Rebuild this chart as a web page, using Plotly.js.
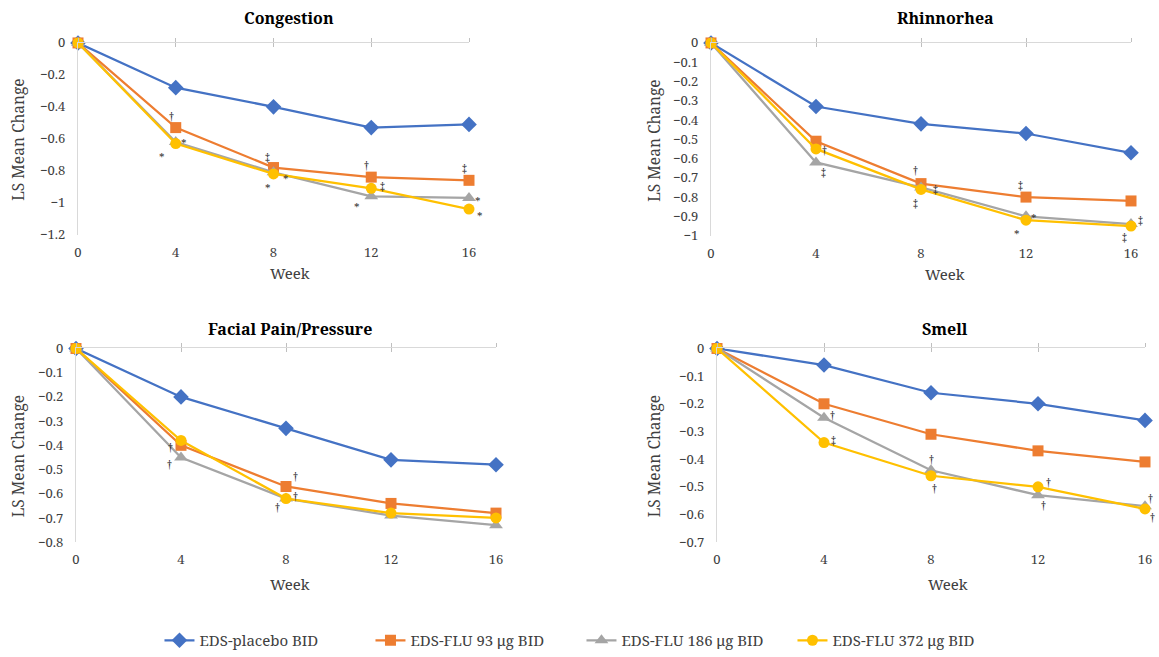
<!DOCTYPE html>
<html>
<head>
<meta charset="utf-8">
<script src="https://cdn.plot.ly/plotly-3.0.1.min.js"></script>
<style>html,body{margin:0;padding:0;background:#fff;}#chart{width:1159px;height:657px;}</style>
</head>
<body>
<div id="chart"></div>
<script>
// ---------- DATA ----------
const weeks = [0, 4, 8, 12, 16];
const seriesNames = ['EDS-placebo BID', 'EDS-FLU 93 μg BID', 'EDS-FLU 186 μg BID', 'EDS-FLU 372 μg BID'];
const panelTitles = ['Congestion', 'Rhinnorhea', 'Facial Pain/Pressure', 'Smell'];

const congestionPlacebo = [0, -0.28, -0.40, -0.53, -0.51];
const congestion93      = [0, -0.53, -0.78, -0.84, -0.86];
const congestion186     = [0, -0.62, -0.81, -0.96, -0.97];
const congestion372     = [0, -0.63, -0.82, -0.91, -1.04];

const rhinorrheaPlacebo = [0, -0.33, -0.42, -0.47, -0.57];
const rhinorrhea93      = [0, -0.51, -0.73, -0.80, -0.82];
const rhinorrhea186     = [0, -0.62, -0.75, -0.90, -0.94];
const rhinorrhea372     = [0, -0.55, -0.76, -0.92, -0.95];

const facialPlacebo = [0, -0.20, -0.33, -0.46, -0.48];
const facial93      = [0, -0.40, -0.57, -0.64, -0.68];
const facial186     = [0, -0.45, -0.62, -0.69, -0.73];
const facial372     = [0, -0.38, -0.62, -0.68, -0.70];

const smellPlacebo = [0, -0.06, -0.16, -0.20, -0.26];
const smell93      = [0, -0.20, -0.31, -0.37, -0.41];
const smell186     = [0, -0.25, -0.44, -0.53, -0.57];
const smell372     = [0, -0.34, -0.46, -0.50, -0.58];

// significance symbols per series and week
const congestionSig93  = ['', '†', '‡', '†', '‡'];
const congestionSig186 = ['', '*', '*', '*', '*'];
const congestionSig372 = ['', '*', '*', '‡', '*'];
const rhinorrheaSig93  = ['', '', '†', '‡', ''];
const rhinorrheaSig186 = ['', '‡', '‡', '*', '‡'];
const rhinorrheaSig372 = ['', '†', '‡', '*', '‡'];
const facialSig93  = ['', '†', '†', '', ''];
const facialSig186 = ['', '†', '†', '', ''];
const facialSig372 = ['', '', '†', '', ''];
const smellSig93  = ['', '', '', '', ''];
const smellSig186 = ['', '†', '†', '†', '†'];
const smellSig372 = ['', '‡', '†', '†', '†'];

const yTickLabelsCoarse = [0, -0.2, -0.4, -0.6, -0.8, -1, -1.2];

// ---------- STYLE / LAYOUT ----------
const W = 1159, H = 657;
const colors = ['#4472C4', '#ED7D31', '#A5A5A5', '#FFC000'];
const symbols = ['diamond', 'square', 'triangle-up', 'circle'];
const sizes = [12, 11, 12, 11];
const serif = '"Noto Serif", "DejaVu Serif", serif';
const txtColor = '#404040';

const panels = [
  { data: [congestionPlacebo, congestion93, congestion186, congestion372],
    sig: [null, congestionSig93, congestionSig186, congestionSig372],
    off: [null,
      [null, [-4,-12], [-6,-11], [-5,-13], [-5,-13]],
      [null, [8,-2], [12,3], [-14,7], [9,0]],
      [null, [-14,10], [-6,11], [11,-3], [11,3]]],
    px: [78, 469], py: [43, 235], range: [-1.2, 0], tickvals: yTickLabelsCoarse,
    title: [289, 18], ytitle: [18, 140], week: [290, 273] },
  { data: [rhinorrheaPlacebo, rhinorrhea93, rhinorrhea186, rhinorrhea372],
    sig: [null, rhinorrheaSig93, rhinorrheaSig186, rhinorrheaSig372],
    off: [null,
      [null, null, [-6,-14], [-6,-13], null],
      [null, [7,9], [14,1], [8,-2], [9,-5]],
      [null, [8,1], [-6,13], [-9,10], [-7,10]]],
    px: [711, 1131], py: [43, 236], range: [-1, 0], tickvals: null, dtick: 0.1,
    title: [945, 18], ytitle: [654, 141], week: [945, 274] },
  { data: [facialPlacebo, facial93, facial186, facial372],
    sig: [null, facialSig93, facialSig186, facialSig372],
    off: [null,
      [null, [-11,1], [9,-11], null, null],
      [null, [-12,6], [-9,8], null, null],
      [null, null, [9,-3], null, null]],
    px: [76, 496], py: [349, 543], range: [-0.8, 0], tickvals: null, dtick: 0.1,
    title: [290, 330], ytitle: [18, 457], week: [290, 585] },
  { data: [smellPlacebo, smell93, smell186, smell372],
    sig: [null, smellSig93, smellSig186, smellSig372],
    off: [null,
      null,
      [null, [9,-3], [1,-12], [5,9], [5,-9]],
      [null, [10,-3], [4,12], [10,-5], [7,8]]],
    px: [717, 1145], py: [349, 543], range: [-0.7, 0], tickvals: null, dtick: 0.1,
    title: [945, 330], ytitle: [654, 457], week: [948, 585] }
];

const traces = [];
const layout = {
  width: W, height: H,
  margin: { l: 0, r: 0, t: 0, b: 0 },
  paper_bgcolor: '#fff', plot_bgcolor: 'rgba(0,0,0,0)',
  font: { family: serif, color: txtColor, size: 13 },
  showlegend: true,
  legend: {
    orientation: 'h', x: 0.1376, y: 1 - 641 / H, xanchor: 'left', yanchor: 'middle',
    font: { family: serif, size: 15, color: txtColor },
    entrywidth: 166, traceorder: 'normal', itemclick: false
  },
  annotations: [],
  hovermode: false
};

panels.forEach((p, i) => {
  const n = i + 1;
  const xa = n === 1 ? 'x' : 'x' + n;
  const ya = n === 1 ? 'y' : 'y' + n;
  const xKey = n === 1 ? 'xaxis' : 'xaxis' + n;
  const yKey = n === 1 ? 'yaxis' : 'yaxis' + n;
  const xdom = [p.px[0] / W, p.px[1] / W];
  const ydom = [1 - p.py[1] / H, 1 - p.py[0] / H];

  layout[xKey] = {
    domain: xdom, anchor: ya, range: [0, 16], tickvals: weeks,
    showline: false, showgrid: false, zeroline: false, ticks: '',
    ticklabelstandoff: 8, tickfont: { family: serif, size: 13, color: txtColor }, fixedrange: true
  };
  const yax = {
    domain: ydom, anchor: xa, range: p.range,
    showline: true, linecolor: '#d9d9d9', linewidth: 1,
    showgrid: false, zeroline: false, ticks: '',
    ticklabelstandoff: 9, tickfont: { family: serif, size: 13, color: txtColor }, fixedrange: true
  };
  if (p.tickvals) { yax.tickvals = p.tickvals; }
  else { yax.tickmode = 'linear'; yax.tick0 = 0; yax.dtick = p.dtick; }
  layout[yKey] = yax;

  // top axis line with cross tick marks (two overlay axes)
  ['outside', 'inside'].forEach((tk, j) => {
    const k = 4 + n + j * 4;
    const key = 'xaxis' + k;
    layout[key] = {
      overlaying: xa, anchor: ya, side: 'top', range: [0, 16], tickvals: weeks,
      showline: j === 0, linecolor: '#d9d9d9', linewidth: 1,
      ticks: tk, ticklen: 4, tickcolor: '#bfbfbf', tickwidth: 1,
      showticklabels: false, showgrid: false, zeroline: false, fixedrange: true
    };
    traces.push({ type: 'scatter', x: [null], y: [null], xaxis: 'x' + k, yaxis: ya,
      showlegend: false, hoverinfo: 'skip', mode: 'markers' });
  });

  p.data.forEach((vals, s) => {
    traces.push({
      type: 'scatter', mode: 'lines+markers', x: weeks, y: vals,
      xaxis: xa, yaxis: ya, name: seriesNames[s], legendgroup: 's' + s,
      showlegend: i === 0, cliponaxis: false,
      line: { color: colors[s], width: 2.25 },
      marker: { symbol: symbols[s], size: sizes[s], color: colors[s], line: { width: 0 } }
    });
    // significance markers
    if (p.sig[s]) {
      p.sig[s].forEach((sym, w) => {
        if (!sym) return;
        const o = (p.off[s] && p.off[s][w]) || [8, 0];
        const starAdj = sym === '*' ? 3 : 0;
        layout.annotations.push({
          x: weeks[w], y: vals[w], xref: xa, yref: ya, text: sym, showarrow: false,
          xshift: o[0], yshift: -(o[1] + starAdj),
          font: { family: serif, size: 11, color: '#303030' }
        });
      });
    }
  });

  layout.annotations.push({
    x: p.title[0] / W, y: 1 - p.title[1] / H, xref: 'paper', yref: 'paper',
    text: '<b>' + panelTitles[i] + '</b>', showarrow: false,
    xanchor: 'center', yanchor: 'middle',
    font: { family: serif, size: 16, color: '#000' }
  });
  layout.annotations.push({
    x: p.ytitle[0] / W, y: 1 - p.ytitle[1] / H, xref: 'paper', yref: 'paper',
    text: 'LS Mean Change', showarrow: false, textangle: -90,
    xanchor: 'center', yanchor: 'middle',
    font: { family: serif, size: 15.5, color: txtColor }
  });
  layout.annotations.push({
    x: p.week[0] / W, y: 1 - p.week[1] / H, xref: 'paper', yref: 'paper',
    text: 'Week', showarrow: false, xanchor: 'center', yanchor: 'middle',
    font: { family: serif, size: 15, color: txtColor }
  });
});

Plotly.newPlot('chart', traces, layout, { displayModeBar: false, staticPlot: true });
</script>
</body>
</html>
